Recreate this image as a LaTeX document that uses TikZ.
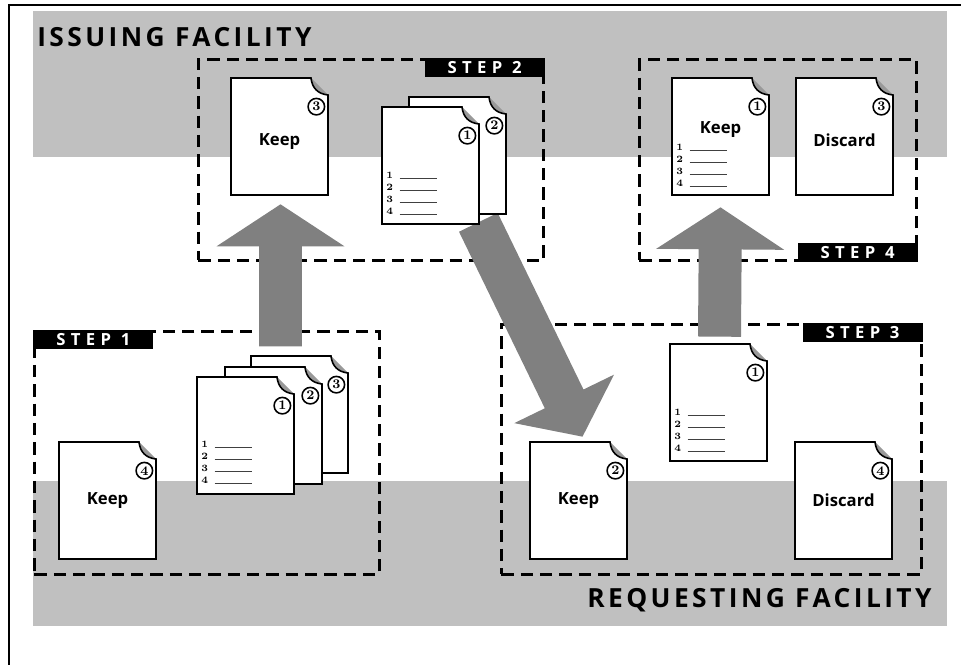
\documentclass[tikz,border=0pt]{standalone}
\usepackage{fontspec}
\setsansfont{Open Sans}
\newfontfamily\stepfont{Open Sans}[LetterSpace=32]
\newfontfamily\placefont{Open Sans}[LetterSpace=13]
\usetikzlibrary{calc,positioning}
\definecolor{bandgray}{HTML}{C0C0C0}
\definecolor{arrowgray}{HTML}{808080}
\definecolor{foldgray}{HTML}{999999}
\pgfdeclarelayer{bands}
\pgfdeclarelayer{arrows}
\pgfsetlayers{bands,arrows,main}
\tikzset{
  band/.style={fill=bandgray,draw=none},
  stepframe/.style={draw=black,line width=1.7pt,dash pattern=on 7pt off 4pt,
                    inner sep=0pt,anchor=north west},
  steptag/.style={fill=black,text=white,inner sep=0pt,
                  font=\stepfont\bfseries\fontsize{9.5}{9.5}\selectfont,
                  minimum width=2.4cm,minimum height=0.38cm},
  facility/.style={font=\placefont\bfseries\fontsize{15}{15}\selectfont,
                   inner sep=0pt},
  sheet/.style={fill=white,draw=black,line width=0.9pt},
  sheetbox/.style={minimum width=1.94cm,minimum height=2.34cm,inner sep=0pt},
  numring/.style={circle,draw=black,line width=0.9pt,minimum size=0.33cm,
                  inner sep=0pt,font=\bfseries\fontsize{7.5}{7.5}\selectfont},
  doclabel/.style={font=\sffamily\bfseries\fontsize{9.5}{9.5}\selectfont},
  rownum/.style={font=\bfseries\fontsize{5.5}{5.5}\selectfont,inner sep=0pt,
                 anchor=base},
  rowline/.style={line width=0.6pt,draw=black!75},
  bigarrow/.style={fill=arrowgray}
}
% page with curled corner: name, left, top, number
\newcommand{\sheetat}[4]{%
  \fill[foldgray] (#2+80,#3) .. controls (#2+81,#3+10) and (#2+87,#3+16)
    .. (#2+97,#3+17) -- cycle;
  \path[sheet] (#2,#3+117) -- (#2,#3) -- (#2+80,#3)
    .. controls (#2+81,#3+10) and (#2+87,#3+16) .. (#2+97,#3+17)
    -- (#2+97,#3+117) -- cycle;
  \node[sheetbox] (#1) at (#2+48.5,#3+58.5) {};
  \node[numring] (#1n) at ($(#1.north east)+(-12,29)$) {#4};
}
% numbered rows: name, first baseline
\newcommand{\sheetrows}[2]{%
  \foreach \k [count=\i from 0] in {1,...,4}{
    \node[rownum] (#1r\k) at ($(#1.north west)+(8,#2+12*\i)$) {\k};
    \draw[rowline] ($(#1.north west)+(18,#2+12*\i)$) -- ++(37,0);
  }
}
% broad arrow: [head half width] start, tip
\newcommand{\fatarrow}[3][1.28cm]{%
  \coordinate (hb) at ($(#3)!0.84cm!(#2)$);
  \fill[bigarrow] ($(#2)!0.43cm!90:(#3)$) -- ($(hb)!0.43cm!90:(#3)$)
    -- ($(hb)!#1!90:(#3)$) -- (#3) -- ($(hb)!#1!-90:(#3)$)
    -- ($(hb)!0.43cm!-90:(#3)$) -- ($(#2)!0.43cm!-90:(#3)$) -- cycle;
}

\begin{document}
\begin{tikzpicture}[x=0.02cm,y=-0.02cm]
  \useasboundingbox (0,0) rectangle (961,665);
  \begin{pgfonlayer}{bands}
    \draw[line width=1.3pt] (9,665) -- (9,5) -- (961,5);
    \fill[band] (33,11) rectangle (947,157);
    \fill[band] (33,481) rectangle (947,626);
    \node[stepframe,minimum width=6.9cm,minimum height=4.02cm] (box2) at (197,58) {};
    \node[stepframe,minimum width=5.54cm,minimum height=4.02cm] (box4) at (638,58) {};
    \node[stepframe,minimum width=6.9cm,minimum height=4.86cm] (box1) at (33,330) {};
    \node[stepframe,minimum width=8.4cm,minimum height=5.0cm] (box3) at (500,323) {};
  \end{pgfonlayer}

  \node[facility,anchor=base west] (issuing) at (37,47) {ISSUING FACILITY};
  \node[facility,anchor=base east] (requesting) at (932,608) {REQUESTING FACILITY};

  % step 1
  \sheetat{k1}{59}{442}{4}
  \node[doclabel] (k1t) at (k1) {Keep};
  \sheetat{s1c}{251}{356}{3}
  \sheetat{s1b}{225}{367}{2}
  \sheetat{s1a}{197}{377}{1}
  \sheetrows{s1a}{71}

  % step 2
  \sheetat{k2}{231}{78}{3}
  \node[doclabel] (k2t) at ($(k2)+(0,5)$) {Keep};
  \sheetat{s2b}{409}{97}{2}
  \sheetat{s2a}{382}{107}{1}
  \sheetrows{s2a}{72}

  % step 3
  \sheetat{s3a}{670}{344}{1}
  \sheetrows{s3a}{72}
  \sheetat{k3}{530}{442}{2}
  \node[doclabel] (k3t) at (k3) {Keep};
  \sheetat{d3}{795}{442}{4}
  \node[doclabel] (d3t) at (d3) {Discard};

  % step 4
  \sheetat{k4}{672}{78}{1}
  \node[doclabel] (k4t) at ($(k4.north)+(0,52)$) {Keep};
  \sheetrows{k4}{73}
  \sheetat{d4}{796}{78}{3}
  \node[doclabel] (d4t) at ($(d4)+(0,4)$) {Discard};

  % arrows
  \begin{pgfonlayer}{arrows}
    \coordinate (up1s) at ($(k2.south)+(1,151)$);
    \coordinate (up1t) at ($(k2.south)+(1,9)$);
    \fatarrow{up1s}{up1t}
    \coordinate (dgs) at ($(s2a.south east)+(-1,-2)$);
    \coordinate (dgt) at ($(k3.north)+(4,-5)$);
    \fatarrow[1.11cm]{dgs}{dgt}
    \coordinate (up2s) at ($(s3a.north)+(1,-7)$);
    \coordinate (up2t) at ($(k4.south)+(0,12)$);
    \fatarrow{up2s}{up2t}
  \end{pgfonlayer}

  % step tags
  \node[steptag,anchor=north west] (tag1) at (box1.north west) {STEP 1};
  \node[steptag,anchor=north east] (tag2) at (box2.north east) {STEP 2};
  \node[steptag,anchor=north east] (tag3) at (box3.north east) {STEP 3};
  \node[steptag,anchor=south east] (tag4) at (box4.south east) {STEP 4};
\end{tikzpicture}
\end{document}
